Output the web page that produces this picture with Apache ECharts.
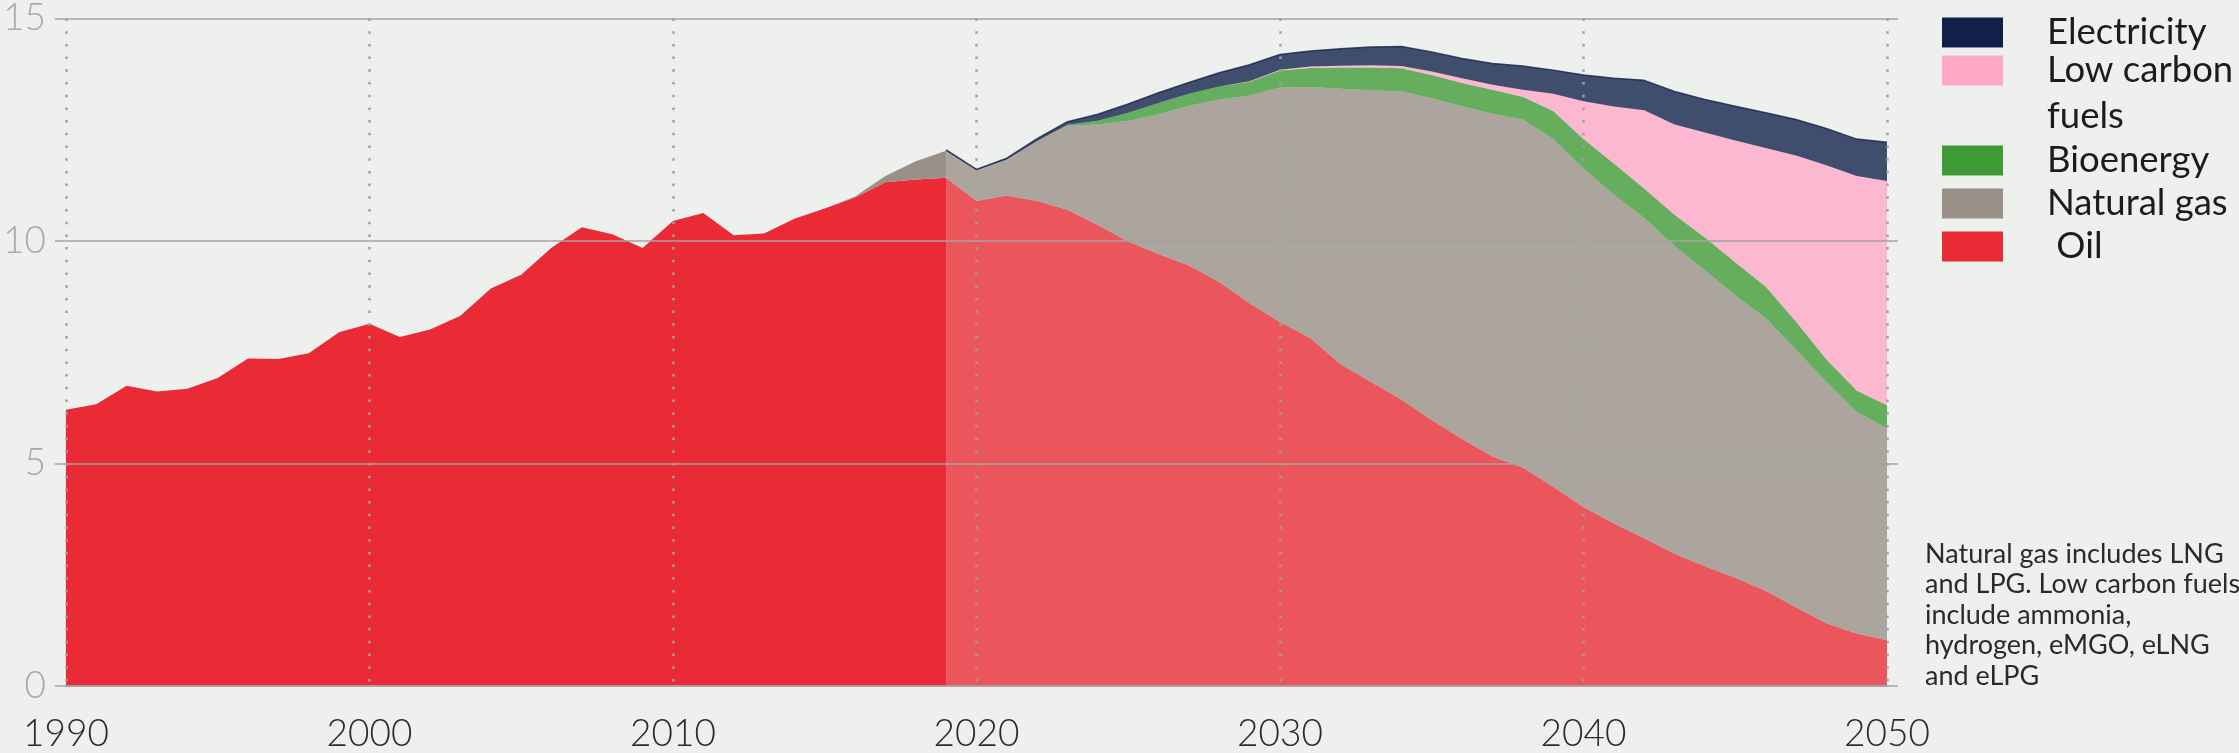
<!DOCTYPE html>
<html>
<head>
<meta charset="utf-8">
<script src="https://cdn.jsdelivr.net/npm/echarts@6/dist/echarts.min.js"></script>
<style>
html,body{margin:0;padding:0;background:#eef0ee;}
#chart{width:2239px;height:753px;}
</style>
</head>
<body>
<div id="chart"></div>
<script>
// Category axis: years
const years = ['1990','1991','1992','1993','1994','1995','1996','1997','1998','1999',
  '2000','2001','2002','2003','2004','2005','2006','2007','2008','2009',
  '2010','2011','2012','2013','2014','2015','2016','2017','2018','2019',
  '2020','2021','2022','2023','2024','2025','2026','2027','2028','2029',
  '2030','2031','2032','2033','2034','2035','2036','2037','2038','2039',
  '2040','2041','2042','2043','2044','2045','2046','2047','2048','2049','2050'];

// Historical values, 1990-2019
const oilHistory = [6.21, 6.33, 6.75, 6.62, 6.68, 6.92, 7.36, 7.35, 7.48, 7.95,
  8.14, 7.84, 8.01, 8.32, 8.93, 9.24, 9.85, 10.31, 10.15, 9.84,
  10.45, 10.63, 10.13, 10.17, 10.50, 10.73, 10.98, 11.32, 11.38, 11.42];
const gasHistory = [0, 0, 0, 0, 0, 0, 0, 0, 0, 0,
  0, 0, 0, 0, 0, 0, 0, 0, 0, 0,
  0, 0, 0, 0, 0, 0, 0.02, 0.14, 0.41, 0.61];

// Projected values, 2019-2050
const projectionStartYear = '2019';
const oilProjection = [11.42, 10.90, 11.02, 10.90, 10.70, 10.36, 9.99, 9.71, 9.45, 9.08, 8.60,
  8.18, 7.82, 7.23, 6.83, 6.44, 5.98, 5.55, 5.16, 4.91, 4.48,
  4.02, 3.65, 3.32, 2.97, 2.69, 2.43, 2.14, 1.77, 1.41, 1.18, 1.03];
const gasProjection = [0.61, 0.69, 0.81, 1.35, 1.89, 2.26, 2.71, 3.14, 3.59, 4.10, 4.67,
  5.27, 5.64, 6.19, 6.56, 6.92, 7.23, 7.48, 7.70, 7.82, 7.81,
  7.61, 7.39, 7.20, 6.92, 6.65, 6.35, 6.13, 5.79, 5.42, 4.98, 4.76];
const bioProjection = [0, 0, 0, 0, 0.02, 0.08, 0.18, 0.25, 0.27, 0.29, 0.31,
  0.38, 0.43, 0.48, 0.51, 0.52, 0.52, 0.52, 0.54, 0.51, 0.63,
  0.66, 0.70, 0.66, 0.70, 0.74, 0.74, 0.71, 0.63, 0.51, 0.48, 0.52];
const lowCarbonProjection = [0, 0, 0, 0, 0, 0, 0, 0, 0, 0, 0.01,
  0.02, 0.03, 0.04, 0.05, 0.05, 0.08, 0.11, 0.11, 0.16, 0.39,
  0.85, 1.28, 1.76, 2.03, 2.36, 2.74, 3.11, 3.73, 4.36, 4.82, 5.04];
const electricityProjection = [0.02, 0.02, 0.03, 0.05, 0.07, 0.15, 0.20, 0.23, 0.25, 0.31, 0.37,
  0.34, 0.35, 0.38, 0.41, 0.44, 0.44, 0.44, 0.48, 0.53, 0.53,
  0.59, 0.64, 0.67, 0.74, 0.74, 0.77, 0.79, 0.81, 0.83, 0.83, 0.87];

const yTicks = [0, 5, 10, 15];
const noteText = 'Natural gas includes LNG\nand LPG. Low carbon fuels\ninclude ammonia,\nhydrogen, eMGO, eLNG\nand eLPG';

const COLORS = {
  oil: '#ea2a35', gas: '#9a9087', bio: '#3f9b35', low: '#ffa8c8', elec: '#10204a'
};
const PROJ_OPACITY = 0.78;
const FONT = 'Lato, "Open Sans", sans-serif';

const projStart = years.indexOf(projectionStartYear);
function padHistory(arr) { return years.map((y, i) => i < arr.length ? arr[i] : null); }
function padProjection(arr) { return years.map((y, i) => i >= projStart ? arr[i - projStart] : null); }

function area(name, data, color, stack, opacity, line) {
  return {
    name: name, type: 'line', stack: stack, data: data, symbol: 'none', showSymbol: false,
    color: color,
    lineStyle: line || { width: 0 },
    areaStyle: { color: color, opacity: opacity },
    emphasis: { disabled: true },
    silent: true, z: 2
  };
}

const series = [
  area(' Oil', padHistory(oilHistory), COLORS.oil, 'hist', 1),
  area('Natural gas', padHistory(gasHistory), COLORS.gas, 'hist', 1),
  area(' Oil', padProjection(oilProjection), COLORS.oil, 'proj', PROJ_OPACITY),
  area('Natural gas', padProjection(gasProjection), COLORS.gas, 'proj', PROJ_OPACITY),
  area('Bioenergy', padProjection(bioProjection), COLORS.bio, 'proj', PROJ_OPACITY),
  area('Low carbon fuels', padProjection(lowCarbonProjection), COLORS.low, 'proj', PROJ_OPACITY),
  area('Electricity', padProjection(electricityProjection), COLORS.elec, 'proj', PROJ_OPACITY,
       { width: 1.5, color: COLORS.elec, opacity: PROJ_OPACITY })
];

const legendText = {
  color: '#1c1c1c', fontSize: 36.5, fontFamily: FONT, padding: [0, 0, 0, 39]
};
const legendBase = {
  left: 1942, padding: 0, itemWidth: 61, itemHeight: 30, selectedMode: false,
  itemStyle: { borderWidth: 0 }
};

const chart = echarts.init(document.getElementById('chart'), null, { renderer: 'canvas' });
chart.setOption({
  backgroundColor: '#eef0ee',
  animation: false,
  textStyle: { fontFamily: FONT },
  grid: { left: 63, right: 352, top: 14, bottom: 62, containLabel: false },
  title: {
    text: noteText, left: 1925, top: 539, padding: 0,
    textStyle: { fontSize: 27, lineHeight: 30.5, fontWeight: 'normal', color: '#2a2a2a', fontFamily: FONT }
  },
  legend: [
    Object.assign({}, legendBase, {
      top: 14,
      data: [{ name: 'Electricity', icon: 'rect', itemStyle: { color: COLORS.elec } }],
      textStyle: legendText
    }),
    Object.assign({}, legendBase, {
      top: 52, itemHeight: 76,
      data: [{ name: 'Low carbon fuels', icon: 'path://M0,0L61,0L61,30L0,30Z M0,76L0.01,76L0.01,76.01Z', itemStyle: { color: COLORS.low } }],
      formatter: function (n) { return '{a|Low carbon}\n{a|fuels}'; },
      textStyle: Object.assign({
        rich: { a: { lineHeight: 46, fontSize: 36.5, fontFamily: FONT, color: '#1c1c1c' } }
      }, legendText)
    }),
    Object.assign({}, legendBase, {
      top: 142, orient: 'vertical', itemGap: 6,
      data: [
        { name: 'Bioenergy', icon: 'rect', itemStyle: { color: COLORS.bio } },
        { name: 'Natural gas', icon: 'rect', itemStyle: { color: COLORS.gas } },
        { name: ' Oil', icon: 'rect', itemStyle: { color: COLORS.oil } }
      ],
      textStyle: legendText
    })
  ],
  xAxis: {
    type: 'category', data: years, boundaryGap: false, z: 5,
    axisLine: { show: true, lineStyle: { color: '#a3a3a3', width: 1.5 } },
    axisTick: { show: false },
    axisLabel: { interval: 9, margin: 30, fontSize: 37, color: '#2b2b2b', fontFamily: FONT, fontWeight: 300 },
    splitLine: { show: true, interval: 9, lineStyle: { color: '#a0a0a0', width: 2.5, type: [2.5, 10.2] } }
  },
  yAxis: [
    {
      type: 'value', min: yTicks[0], max: yTicks[yTicks.length - 1], interval: yTicks[1] - yTicks[0], z: 5,
      axisLine: { show: false },
      axisTick: { show: true, length: 11, lineStyle: { color: '#a3a3a3', width: 1.5 } },
      axisLabel: { margin: 20, fontSize: 37, color: '#a9a9a9', fontFamily: FONT, fontWeight: 300 },
      splitLine: { show: true, lineStyle: { color: '#a3a3a3', width: 1.5 } }
    },
    {
      type: 'value', position: 'right', min: yTicks[0], max: yTicks[yTicks.length - 1], interval: yTicks[1] - yTicks[0], z: 5,
      axisLine: { show: false },
      axisTick: { show: true, length: 11, lineStyle: { color: '#a3a3a3', width: 1.5 } },
      axisLabel: { show: false },
      splitLine: { show: false }
    }
  ],
  series: series
});
</script>
</body>
</html>
